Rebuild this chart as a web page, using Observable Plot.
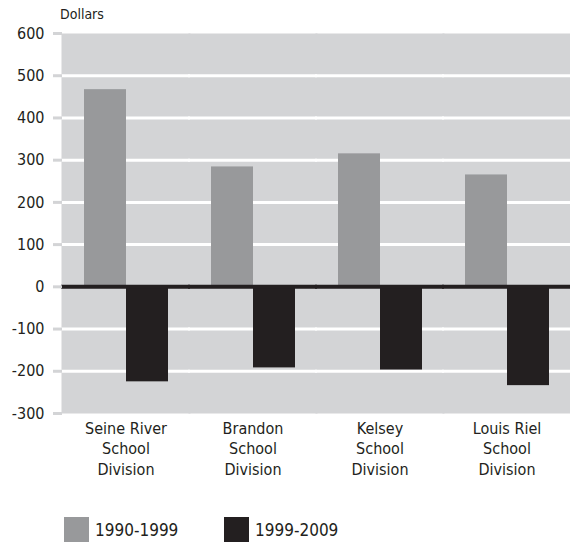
<!DOCTYPE html>
<html>
<head>
<meta charset="utf-8">
<script src="https://cdn.jsdelivr.net/npm/d3@7"></script>
<script src="https://cdn.jsdelivr.net/npm/@observablehq/plot@0.6"></script>
<style>
  body { margin: 0; background: #fff; font-family: "DejaVu Sans Condensed", sans-serif; color: #231f20; overflow: hidden; }
  #wrap { position: relative; width: 570px; height: 542px; }
  #unit { position: absolute; left: 60px; top: 6px; font-size: 14px; }
  .item { display: flex; align-items: center; position: absolute; font-size: 17px; }
  .sw { width: 25px; height: 25px; margin-right: 6px; }
</style>
</head>
<body>
<div id="wrap">
  <div id="unit">Dollars</div>
  <div id="chart"></div>
</div>
<script>
const categories = ["Seine River", "Brandon", "Kelsey", "Louis Riel"];
const series = ["1990-1999", "1999-2009"];
const values1990 = [467, 284, 315, 265];
const values1999 = [-225, -192, -197, -234];
const yTicks = [-300, -200, -100, 0, 100, 200, 300, 400, 500, 600];
const gridTicks = [-200, -100, 100, 200, 300, 400, 500];
const colors = ["#98999b", "#231f20"];

const data = [];
categories.forEach((c, i) => {
  data.push({category: c, series: series[0], value: values1990[i]});
  data.push({category: c, series: series[1], value: values1999[i]});
});

const font = '"DejaVu Sans Condensed", sans-serif';

const chart = Plot.plot({
  width: 570,
  height: 490,
  marginTop: 33,
  marginBottom: 77,
  marginLeft: 61,
  marginRight: 0,
  style: {fontFamily: font, fontSize: "16px", color: "#231f20", background: "white"},
  fx: {domain: categories, padding: 0, label: null},
  x: {domain: series, paddingInner: 0, paddingOuter: 0.48, axis: null},
  y: {domain: [-300, 600], label: null},
  color: {domain: series, range: colors},
  marks: [
    Plot.frame({fill: "#d3d4d6", stroke: "none", insetLeft: -1, insetRight: -1}),
    Plot.ruleY(gridTicks, {stroke: "white", strokeWidth: 3, insetLeft: -1, insetRight: -1}),
    Plot.barY(data, {fx: "category", x: "series", y: "value", fill: "series"}),
    Plot.ruleY([0], {stroke: "#231f20", strokeWidth: 4, insetLeft: -1, insetRight: -1}),
    Plot.axisY(yTicks, {anchor: "left", tickSize: 9, tickPadding: 9, stroke: "#d3d4d6", strokeWidth: 3,
      label: null, tickFormat: d => String(d), fontSize: 16, fill: "#231f20"}),
    Plot.axisFx({anchor: "bottom", tickSize: 0, tickPadding: 6, label: null, fontSize: 16, lineHeight: 1.27,
      fill: "#231f20", tickFormat: d => d + "\nSchool\nDivision"})
  ]
});
document.getElementById("chart").appendChild(chart);

const lx = [64, 224];
series.forEach((s, i) => {
  const it = document.createElement("div");
  it.className = "item";
  it.style.left = lx[i] + "px";
  it.style.top = "517px";
  const sw = document.createElement("div");
  sw.className = "sw";
  sw.style.background = colors[i];
  it.appendChild(sw);
  const t = document.createElement("span");
  t.textContent = s;
  it.appendChild(t);
  document.getElementById("wrap").appendChild(it);
});
</script>
</body>
</html>
